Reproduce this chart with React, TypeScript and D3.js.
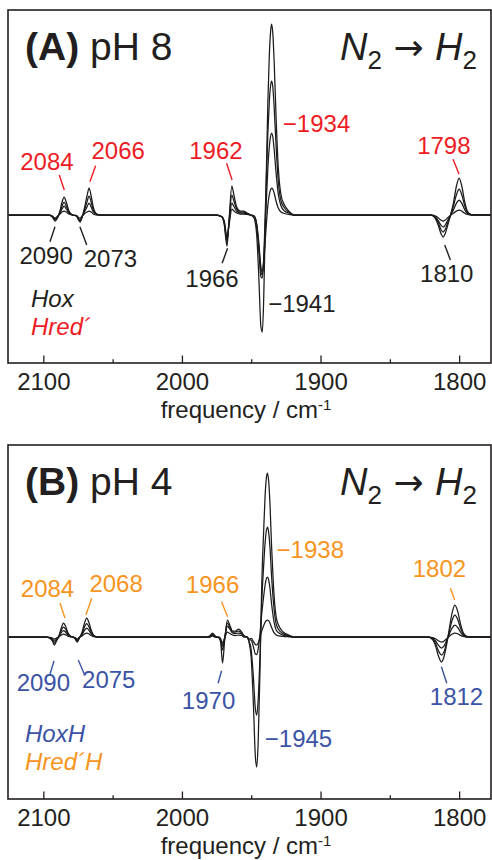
import React, { useEffect, useRef } from 'react';
import * as d3 from 'd3';

const FONT = '"Liberation Sans", Arial, Helvetica, sans-serif';
const INK = '#231f20';
const RED = '#ed1c24';
const ORANGE = '#f7941d';
const BLUE = '#3a53a4';

// x axis (wavenumber, decreasing to the right)
const freqDomain = [2125.5, 1777];
const majorTicks = [2100, 2000, 1900, 1800];
const minorTicks = [2050, 1950, 1850];

// ---- (A) pH 8 : sampled frequencies and the four difference spectra ----
const pH8Freq = [
  2125, 2096, 2093.5, 2091.5, 2089.5, 2088, 2086.5, 2085, 2083.5, 2081.5, 2079,
  2076, 2075, 2073.5, 2072, 2070.5, 2068.5, 2067, 2065.5, 2064, 2061.5, 2058,
  1975, 1971, 1969.5, 1967.5, 1966, 1964, 1962.5, 1960.5, 1958, 1955.5, 1953, 1950.5,
  1948, 1946, 1944.5, 1943, 1942, 1941, 1939.5, 1938, 1937, 1936, 1935.3, 1934.5, 1933.5, 1932, 1930.5, 1928.5, 1926, 1923, 1919,
  1820, 1817, 1815, 1813, 1811.5, 1810, 1808, 1806, 1804, 1802, 1800, 1798, 1796, 1794, 1791, 1777,
];
const pH8Trace1 = [
  0, 0, -2, -6, -2, 4, 13, 18, 13, 4, 0,
  -1, -4, -7, -2, 6, 19, 27, 19, 8, 1, 0,
  0, -2, -9, -31, -5, 29, 20, 8, 4, 4, 2, 0,
  -3, -21, -63, -112, -117, -84, 15, 113, 158, 184, 191, 183, 155, 95, 48, 20, 10, 4, 0,
  0, -4, -10.5, -19, -22, -18.5, -9, 1, 13, 28.5, 37, 28.5, 13.4, 3.7, 0.3, 0,
];
const pH8Trace2 = [
  0, 0, -1.5, -5, -1.5, 3, 9, 13, 9, 3, 0,
  -1, -3.5, -6, -2, 4, 13, 19, 13, 5, 1, 0,
  0, -2, -8, -27, -6, 20, 14, 6, 3, 3, 1.5, 0,
  -1, -12, -35, -62, -63, -43, 19, 82, 112, 130, 134, 129, 109, 67, 34, 14, 7, 3, 0,
  0, -3, -8, -14.7, -17, -14.3, -7, 0.6, 9.4, 20, 26, 20, 9.4, 2.6, 0.2, 0,
];
const pH8Trace3 = [
  0, 0, -1.2, -4, -1.2, 2, 6, 9, 6, 2, 0,
  -0.8, -3, -5, -1.5, 2.5, 8, 12, 8, 3, 0.5, 0,
  0, -2, -7, -25, -8, 12, 8.5, 4, 2, 2, 1, 0,
  -1, -10.7, -32, -57, -60, -45, 1, 47, 67.5, 79, 82, 79, 66, 41, 21, 9, 4, 2, 0,
  0, -2, -5.7, -10.4, -12, -10, -4.8, 0.4, 5.4, 11.6, 15, 11.6, 5.4, 1.5, 0.1, 0,
];
const pH8Trace4 = [
  0, 0, -1, -3, -1, 1, 3, 4, 3, 1, 0,
  -0.5, -2, -3, -1, 1, 3, 4, 3, 1, 0, 0,
  0, -2, -6, -22, -10, 6, 4, 2, 1, 1, 0.5, 0,
  -1, -9.3, -28, -52, -57, -48, -17.5, 9.6, 20, 25.5, 27, 26, 22, 13.5, 7, 3, 1.5, 0.5, 0,
  0, -1, -2.9, -5.2, -6, -5, -2.5, 0, 1.8, 3.9, 5, 3.9, 1.8, 0.5, 0, 0,
];

// ---- (B) pH 4 ----
const pH4Freq = [
  2125, 2098, 2095.5, 2093.5, 2092, 2090.5, 2089, 2087.5, 2085.5, 2084, 2082.5, 2080.5,
  2078.5, 2077, 2075.5, 2074, 2072, 2070.5, 2068.7, 2067, 2065.5, 2063, 2060,
  1983, 1980, 1978, 1976, 1973, 1972, 1970.7, 1969.2, 1967.2, 1965.5, 1963.5, 1961.5, 1959, 1957, 1955,
  1953, 1951.5, 1950, 1948.5, 1947, 1946, 1945, 1943.5, 1942.5, 1941, 1940, 1939, 1938.3, 1937.5, 1936.5, 1935.3, 1934, 1932, 1930, 1927, 1923, 1919,
  1822, 1819, 1817, 1815, 1812.7, 1811, 1809, 1807, 1805, 1803, 1801, 1799, 1797, 1794, 1777,
];
const pH4Trace1 = [
  0, 0, -1, -4, -8, -4, 0, 7, 14, 11, 5, 1,
  0, -2, -5, -1, 5, 13, 19, 14, 7, 1, 0,
  0, 1, 4, 1, -1, -6, -26, -4, 17, 12, 6, 6, 8, 5, 1,
  0, -6, -21.5, -65, -120, -130, -106, -22, 47, 107, 141, 160, 164, 157, 134, 90, 52, 20, 11, 5, 2, 0,
  0, -2.8, -8.9, -18.7, -25, -20.3, -7.4, 9, 24.7, 32, 25.6, 13.1, 4.3, 0.4, 0,
];
const pH4Trace2 = [
  0, 0, -1, -3, -6, -3, 0, 5, 10, 8, 3.5, 0.7,
  0, -1.5, -4, -1, 3.5, 9.5, 13.5, 10, 5, 0.7, 0,
  0, 0.5, 3, 0.5, -1, -4, -13, -2, 14, 10, 5, 5, 6, 4, 1,
  0, -4.5, -13, -39, -72, -78, -63, -11, 33, 72, 94, 107, 110, 105.6, 90, 60.5, 35, 13, 7, 3.3, 1.3, 0,
  0, -2, -6.4, -13.5, -18, -15.3, -5.4, 6, 17, 22, 17.6, 9, 3, 0.3, 0,
];
const pH4Trace3 = [
  0, 0, -0.5, -2, -4, -2, 0, 3.5, 6.5, 5, 2.3, 0.5,
  0, -1, -3, -0.5, 2.3, 6.3, 9, 6.5, 3.3, 0.5, 0,
  0, 0, 2, 0, -1, -3, -9, -1, 11, 8, 4, 3.5, 4, 3, 0.5,
  0, -2.6, -3.3, -9.5, -17, -17.6, -12, 6, 22, 41, 52, 58.6, 60, 57.6, 49, 33, 19, 7, 4, 1.8, 0.7, 0,
  0, -1.2, -4, -8.2, -11, -9.2, -3.5, 3.1, 9.2, 12, 9.6, 4.9, 1.6, 0.1, 0,
];
const pH4Trace4 = [
  0, 0, -0.3, -1, -2, -1, 0, 1.5, 3, 2.3, 1, 0.2,
  0, -0.7, -2, -0.3, 1, 2.8, 4, 3, 1.5, 0.2, 0,
  0, 0, 1, 0, 0, -2, -6, -1, 5, 3.5, 2, 1.5, 2, 1.5, 0,
  0, -2, -1.4, -4.3, -7.6, -8, -6, 0.3, 5.7, 11.4, 14.8, 16.6, 17, 16.3, 14, 9.4, 5.4, 2, 1.1, 0.5, 0.2, 0,
  0, -0.6, -1.8, -3.7, -5, -4.2, -1.8, 0.8, 3, 4, 3.2, 1.6, 0.5, 0, 0,
];

// band labels: text, colour, label position (freq, value), optional leader (f1, v1, f2, v2)
type Note = { text: string; color: string; at: [number, number]; anchor: 'start' | 'middle'; lead?: [number, number, number, number] };

const pH8Notes: Note[] = [
  { text: '2084', color: RED, at: [2097.4, 45], anchor: 'middle', lead: [2088.5, 40, 2084.9, 25] },
  { text: '2066', color: RED, at: [2046, 55.7], anchor: 'middle', lead: [2062.3, 49.3, 2066.4, 33.3] },
  { text: '1962', color: RED, at: [1975.5, 55.7], anchor: 'middle', lead: [1967.8, 51.7, 1963.8, 35] },
  { text: '\u22121934', color: RED, at: [1927.2, 83.3], anchor: 'start' },
  { text: '1798', color: RED, at: [1811, 61], anchor: 'middle', lead: [1804.4, 55.7, 1800.1, 41] },
  { text: '2090', color: INK, at: [2098, -49], anchor: 'middle', lead: [2091.6, -11.7, 2095.2, -26.7] },
  { text: '2073', color: INK, at: [2051.6, -52.3], anchor: 'middle', lead: [2073.6, -11.7, 2068.7, -30] },
  { text: '1966', color: INK, at: [1978.3, -72.3], anchor: 'middle', lead: [1967.1, -33.3, 1971, -48.3] },
  { text: '\u22121941', color: INK, at: [1937.8, -96.7], anchor: 'start' },
  { text: '1810', color: INK, at: [1808.9, -67.3], anchor: 'middle', lead: [1810.4, -30, 1806.3, -45] },
];

const pH4Notes: Note[] = [
  { text: '2084', color: ORANGE, at: [2097, 40.3], anchor: 'middle', lead: [2088, 34, 2084.4, 19] },
  { text: '2068', color: ORANGE, at: [2047.5, 45.3], anchor: 'middle', lead: [2065.1, 38.7, 2069.3, 22] },
  { text: '1966', color: ORANGE, at: [1977.9, 44.3], anchor: 'middle', lead: [1971.4, 35.3, 1967.1, 20.3] },
  { text: '\u22121938', color: ORANGE, at: [1931.7, 78.7], anchor: 'start' },
  { text: '1802', color: ORANGE, at: [1814.2, 60.3], anchor: 'middle', lead: [1806.3, 48.7, 1803.2, 37] },
  { text: '2090', color: BLUE, at: [2100, -53.7], anchor: 'middle', lead: [2092.3, -24, 2095.2, -37] },
  { text: '2075', color: BLUE, at: [2052.8, -51.3], anchor: 'middle', lead: [2074.8, -23, 2070.5, -37] },
  { text: '1970', color: BLUE, at: [1980.8, -72], anchor: 'middle', lead: [1971.4, -33.7, 1973.9, -46.3] },
  { text: '\u22121945', color: BLUE, at: [1940.2, -109.7], anchor: 'start' },
  { text: '1812', color: BLUE, at: [1801.9, -68], anchor: 'middle', lead: [1812.8, -29.7, 1808.9, -46.3] },
];

type PanelProps = {
  top: number;
  height: number;
  freqs: number[];
  traces: number[][];
  yDomain: [number, number];
  letter: string;
  ph: string;
  notes: Note[];
  legend: { text: string; color: string }[];
  legendX: number;
};

function Panel({ top, height, freqs, traces, yDomain, letter, ph, notes, legend, legendX }: PanelProps) {
  const majorRef = useRef<SVGGElement>(null);
  const minorRef = useRef<SVGGElement>(null);

  const x = d3.scaleLinear().domain(freqDomain).range([8, 491]);
  const y = d3.scaleLinear().domain(yDomain).range([height, 0]);

  const line = d3.line<number>()
    .x((_, i) => x(freqs[i]))
    .y(d => y(d))
    .curve(d3.curveMonotoneX);

  useEffect(() => {
    if (majorRef.current) {
      const g = d3.select(majorRef.current);
      g.selectAll('*').remove();
      g.call(d3.axisBottom(x).tickValues(majorTicks).tickSizeInner(-7.5).tickSizeOuter(0).tickPadding(10).tickFormat(d3.format('d')));
      g.select('.domain').remove();
      g.selectAll('line').attr('stroke', INK).attr('stroke-width', 1.3);
      g.selectAll('text').attr('fill', INK).attr('font-size', 24).attr('font-family', FONT);
    }
    if (minorRef.current) {
      const g = d3.select(minorRef.current);
      g.selectAll('*').remove();
      g.call(d3.axisBottom(x).tickValues(minorTicks).tickSizeInner(-3.8).tickSizeOuter(0).tickFormat(() => ''));
      g.select('.domain').remove();
      g.selectAll('line').attr('stroke', INK).attr('stroke-width', 1.3);
    }
  }, []);

  return (
    <g transform={`translate(0,${top})`} fontFamily={FONT}>
      {traces.map((t, i) => (
        <path key={i} d={line(t) || ''} fill="none" stroke="#1b1b1b" strokeWidth={1.25} strokeLinejoin="round" />
      ))}
      <rect x={8} y={0} width={483} height={height} fill="none" stroke={INK} strokeWidth={1.6} />
      <g ref={majorRef} transform={`translate(0,${height})`} />
      <g ref={minorRef} transform={`translate(0,${height})`} />

      <text x={25} y={50} fontSize={39} fill={INK}>
        <tspan fontWeight="bold">{`(${letter})`}</tspan>
        <tspan>{` pH ${ph}`}</tspan>
      </text>
      <text x={477} y={50} fontSize={38} fill={INK} textAnchor="end">
        <tspan fontStyle="italic">N</tspan>
        <tspan fontSize={26} dy={9}>2</tspan>
        <tspan dy={-9} fontFamily='"DejaVu Sans", sans-serif' fontSize={36}>{' \u2192 '}</tspan>
        <tspan fontStyle="italic">H</tspan>
        <tspan fontSize={26} dy={9}>2</tspan>
      </text>

      {notes.map((n, i) => (
        <g key={i}>
          {n.lead && (
            <line x1={x(n.lead[0])} y1={y(n.lead[1])} x2={x(n.lead[2])} y2={y(n.lead[3])} stroke={n.color} strokeWidth={1.4} />
          )}
          <text x={x(n.at[0])} y={y(n.at[1])} fontSize={24} fill={n.color} textAnchor={n.anchor}>{n.text}</text>
        </g>
      ))}

      {legend.map((l, i) => (
        <text key={i} x={legendX} y={297 + i * 28} fontSize={24} fontStyle="italic" fill={l.color}>{l.text}</text>
      ))}

      <text x={246} y={height + 55} fontSize={24} fill={INK} textAnchor="middle">
        <tspan>frequency / cm</tspan>
        <tspan fontSize={15} dy={-8}>-1</tspan>
      </text>
    </g>
  );
}

export default function App() {
  return (
    <svg width={492} height={860} style={{ position: 'absolute', left: 0, top: 0, background: '#fff' }}>
      <Panel
        top={10}
        height={353}
        freqs={pH8Freq}
        traces={[pH8Trace4, pH8Trace3, pH8Trace2, pH8Trace1]}
        yDomain={[-148, 205]}
        letter="A"
        ph="8"
        notes={pH8Notes}
        legend={[{ text: 'Hox', color: INK }, { text: 'Hred\u00B4', color: RED }]}
        legendX={31}
      />
      <Panel
        top={445}
        height={354}
        freqs={pH4Freq}
        traces={[pH4Trace4, pH4Trace3, pH4Trace2, pH4Trace1]}
        yDomain={[-162, 192]}
        letter="B"
        ph="4"
        notes={pH4Notes}
        legend={[{ text: 'HoxH', color: BLUE }, { text: 'Hred\u00B4H', color: ORANGE }]}
        legendX={25}
      />
    </svg>
  );
}
